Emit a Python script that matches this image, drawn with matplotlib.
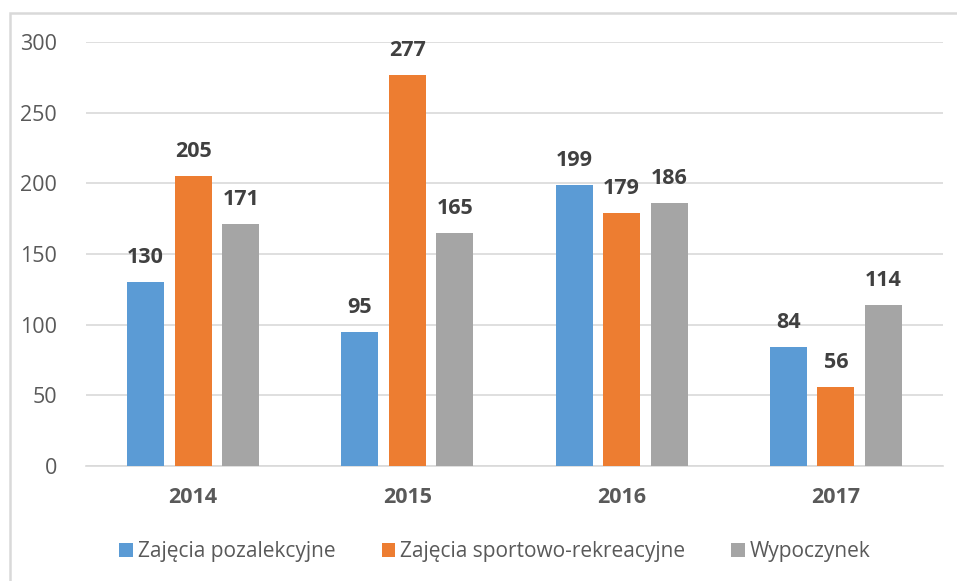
import numpy as np
import matplotlib
matplotlib.use("Agg")
import matplotlib.pyplot as plt
from matplotlib.patches import Rectangle

# --- Dane ---
lata = ["2014", "2015", "2016", "2017"]
serie = ["Zajęcia pozalekcyjne", "Zajęcia sportowo-rekreacyjne", "Wypoczynek"]
pozalekcyjne = [130, 95, 199, 84]
sportowe = [205, 277, 179, 56]
wypoczynek = [171, 165, 186, 114]
kolory = ["#5B9BD5", "#ED7D31", "#A5A5A5"]
y_ticks = [0, 50, 100, 150, 200, 250, 300]

plt.rcParams['font.family'] = ['Open Sans', 'DejaVu Sans']

fig = plt.figure(figsize=(9.57, 5.81), dpi=100)
W, H = 957, 581
ax = fig.add_axes([86 / W, 1 - 466 / H, (943 - 86) / W, (466 - 42) / H])

# ramka wykresu
fig.patches.append(Rectangle((10 / W, -0.05), 1.0, 1 - 13 / H + 0.05,
                             transform=fig.transFigure, fill=False,
                             edgecolor="#D9D9D9", linewidth=1.8))

x = np.arange(len(lata))
szer = 0.173
krok = 0.222
for i, (nazwa, wart, kol) in enumerate(zip(serie, [pozalekcyjne, sportowe, wypoczynek], kolory)):
    pos = x + (i - 1) * krok
    ax.bar(pos, wart, width=szer, color=kol, label=nazwa, zorder=3)
    for p, v in zip(pos, wart):
        ax.annotate(str(v), (p, v), xytext=(0, 14), textcoords="offset pixels",
                    ha="center", va="bottom", fontsize=15.5, fontweight="bold",
                    color="#404040")

ax.set_xlim(-0.5, len(lata) - 0.5)
ax.set_ylim(0, 300)
ax.set_yticks(y_ticks)
ax.set_xticks(x)
ax.set_xticklabels(lata, fontsize=15.5, fontweight="bold", color="#595959")
ax.tick_params(axis="y", labelsize=15.5, labelcolor="#595959", length=0, pad=21)
ax.tick_params(axis="x", length=0, pad=15)
ax.grid(axis="y", color="#D9D9D9", linewidth=1.2, zorder=0)
for s in ["top", "right", "left"]:
    ax.spines[s].set_visible(False)
ax.spines["bottom"].set_color("#D9D9D9")
ax.spines["bottom"].set_linewidth(1.2)

leg = fig.legend(loc="center", bbox_to_anchor=(495 / W, 1 - 552 / H), ncol=3,
                 frameon=False, fontsize=15, handlelength=0.65, handleheight=0.65,
                 handletextpad=0.25, columnspacing=2.2)
for t in leg.get_texts():
    t.set_color("#595959")

fig.savefig("out.png", dpi=100)
